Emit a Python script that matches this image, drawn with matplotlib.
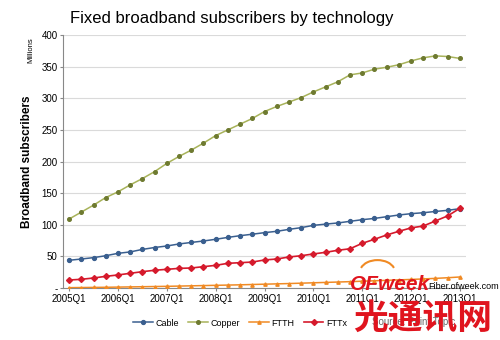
"""
Fixed broadband subscribers by technology, 2005Q1 - 2013Q1
"""
import matplotlib
matplotlib.use("Agg")
import matplotlib.pyplot as plt
from matplotlib.patches import Arc

plt.rcParams["font.family"] = ["Liberation Sans", "DejaVu Sans"]

# ------------------------
# Data (millions of subscribers, quarterly)
# ------------------------
quarters = [f"{y}Q{q}" for y in range(2005, 2013) for q in range(1, 5)] + ["2013Q1"]

cable = [43.8, 45.8, 48.0, 51.0, 54.8, 57.0, 61.0, 64.0, 66.4, 69.6, 72.0,
         74.3, 77.0, 80.0, 82.7, 85.0, 87.5, 89.6, 92.7, 95.4, 99.0, 101.0,
         102.8, 105.4, 108.0, 110.0, 112.7, 115.4, 117.5, 119.0, 121.0, 122.8, 125.4]
copper = [109, 120, 131, 143, 152, 163, 173, 184, 197, 208, 218, 229, 241,
          250, 259, 268, 279, 287, 294, 301, 310, 318, 326, 337, 340, 346,
          349, 353, 359, 364, 367, 366, 363]
ftth = [0.5, 0.7, 0.9, 1.1, 1.4, 1.7, 2.0, 2.3, 2.6, 3.0, 3.4, 3.8, 4.2,
        4.6, 5.0, 5.5, 6.0, 6.5, 7.0, 7.6, 8.2, 8.8, 9.4, 10.0, 10.7, 11.4,
        12.1, 12.8, 13.5, 14.3, 15.2, 16.2, 17.4]
fttx = [12.6, 13.7, 15.8, 18.4, 20.6, 23.2, 25.8, 28.0, 29.5, 31.0, 31.6,
        33.7, 35.8, 39.0, 40.0, 41.0, 44.3, 45.8, 49.0, 51.0, 53.8, 56.4,
        59.6, 62.0, 70.6, 77.0, 83.8, 89.6, 95.0, 98.0, 106.0, 114.0, 126.0]

x = list(range(len(quarters)))

# ------------------------
# Plot
# ------------------------
fig = plt.figure(figsize=(5, 3.4), dpi=100)
ax = fig.add_axes([0.126, 0.153, 0.806, 0.744])

ax.plot(x, cable, color="#3A5F8F", lw=1.1, marker="o", ms=2.8, label="Cable", zorder=3)
ax.plot(x, copper, color="#A8B35A", lw=1.1, marker="o", ms=2.6,
        mfc="#6E7A30", mec="#6E7A30", label="Copper", zorder=3)
ax.plot(x, ftth, color="#F08A24", lw=1.1, marker="^", ms=2.4, label="FTTH", zorder=3)
ax.plot(x, fttx, color="#D51A2C", lw=1.2, marker="D", ms=3.0, label="FTTx", zorder=4)

ax.set_xlim(-0.5, len(quarters) - 0.5)
ax.set_ylim(0, 400)
ax.set_yticks(range(0, 401, 50))
ax.set_yticklabels(["-"] + [str(v) for v in range(50, 401, 50)])
ax.set_xticks(x[::4])
ax.set_xticklabels(quarters[::4])
ax.tick_params(labelsize=7, length=2, color="#888888", pad=2)
ax.grid(axis="y", color="#DADADA", lw=0.8)
ax.set_axisbelow(True)
for side in ["top", "right"]:
    ax.spines[side].set_visible(False)
for side in ["left", "bottom"]:
    ax.spines[side].set_color("#888888")
    ax.spines[side].set_linewidth(0.8)

ax.set_ylabel("Broadband subscribers", fontsize=8.5, fontweight="bold", labelpad=6)
fig.text(0.062, 0.853, "Millions", fontsize=5.5, rotation=90, ha="center", va="center")
fig.text(0.14, 0.947, "Fixed broadband subscribers by technology", fontsize=12,
         ha="left", va="center")

fig.legend(loc="center", bbox_to_anchor=(0.48, 0.05), ncol=4, frameon=False,
           fontsize=6.5, handlelength=2.2, columnspacing=1.0, handletextpad=0.3)

# Source and watermark
fig.text(0.745, 0.052, "Source: Point Topic", fontsize=7, color="#666666",
         ha="left", va="center", zorder=1)
fig.text(0.846, 0.06, "光通讯网", fontsize=25, color="#E0141E", fontweight="bold",
         ha="center", va="center", family=["Noto Sans CJK SC"], zorder=5)
fig.text(0.70, 0.163, "OFweek", fontsize=15, color="#E0141E", fontweight="bold",
         fontstyle="italic", ha="left", va="center", zorder=5)
fig.text(0.856, 0.158, "Fiber.ofweek.com", fontsize=6.5, color="black",
         ha="left", va="center", zorder=5)
fig.patches.append(Arc((0.755, 0.20), 0.07, 0.07, theta1=20, theta2=160,
                       transform=fig.transFigure, color="#F08A24", lw=1.5))

fig.savefig("out.png", dpi=100)
